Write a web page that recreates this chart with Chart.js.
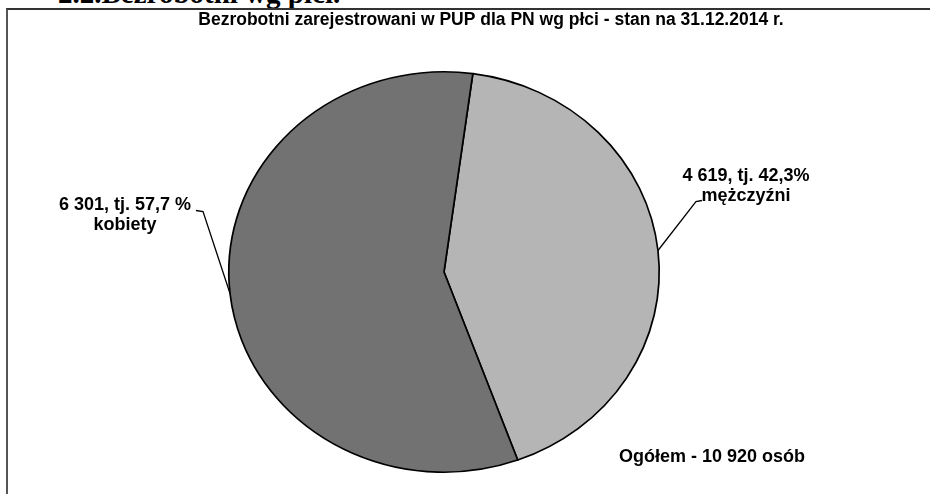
<!DOCTYPE html>
<html>
<head>
<meta charset="utf-8">
<script src="https://cdn.jsdelivr.net/npm/chart.js@4.4.0/dist/chart.umd.min.js"></script>
<style>
  html, body { margin:0; padding:0; background:#fff; width:930px; height:494px; overflow:hidden; }
  #heading { position:absolute; left:58px; top:-23px; font:bold 29px "Liberation Serif", "Times New Roman", serif; color:#000; white-space:nowrap; }
  #frame { position:absolute; left:6px; top:8px; width:930px; height:500px; border-left:2px solid #555; border-top:2px solid #333; box-sizing:border-box; }
  #wrap { position:absolute; left:0; top:0; width:930px; height:494px; }
</style>
</head>
<body>
<div id="heading">2.2.Bezrobotni wg płci.</div>
<div id="frame"></div>
<div id="wrap"><canvas id="c" width="930" height="494"></canvas></div>
<script>
const categories = ['mężczyźni', 'kobiety'];
const values = [4619, 6301];
const valueLabels = ['4 619', '6 301'];
const percentLabels = ['42,3%', '57,7 %'];
const titleText = 'Bezrobotni zarejestrowani w PUP dla PN wg płci - stan na 31.12.2014 r.';
const totalLabel = 'Ogółem - 10 920 osób';

const sliceColors = ['#b5b5b5', '#727272'];
const stretchX = 1.075;
const labelStyle = [
  { elbowDx: 38, elbowDy: -49, tickDx: 6, textX: 746, line1Y: 176, line2Y: 196 },
  { elbowDx: -27, elbowDy: -82, tickDx: -7, textX: 125, line1Y: 205, line2Y: 225 }
];
const FONT = '"Liberation Sans", Arial, sans-serif';

const piePlugin = {
  id: 'pieDecor',
  beforeDatasetsDraw(chart) {
    const arc = chart.getDatasetMeta(0).data[0];
    const ctx = chart.ctx;
    ctx.save();
    ctx.translate(arc.x, arc.y);
    ctx.scale(stretchX, 1);
    ctx.translate(-arc.x, -arc.y);
  },
  afterDatasetsDraw(chart) {
    const ctx = chart.ctx;
    ctx.restore();
    const meta = chart.getDatasetMeta(0);
    ctx.save();
    ctx.fillStyle = '#000';
    ctx.strokeStyle = '#000';
    ctx.lineWidth = 1.3;
    ctx.font = 'bold 18px ' + FONT;
    ctx.textAlign = 'center';
    ctx.textBaseline = 'middle';
    meta.data.forEach((el, i) => {
      const p = el.getProps(['x', 'y', 'startAngle', 'endAngle', 'outerRadius'], true);
      const mid = (p.startAngle + p.endAngle) / 2;
      const ax = p.x + stretchX * p.outerRadius * Math.cos(mid);
      const ay = p.y + p.outerRadius * Math.sin(mid);
      const s = labelStyle[i];
      const ex = ax + s.elbowDx, ey = ay + s.elbowDy;
      ctx.beginPath();
      ctx.moveTo(ax, ay);
      ctx.lineTo(ex, ey);
      ctx.lineTo(ex + s.tickDx, ey - 1);
      ctx.stroke();
      ctx.fillText(valueLabels[i] + ', tj. ' + percentLabels[i], s.textX, s.line1Y);
      ctx.fillText(categories[i], s.textX, s.line2Y);
    });
    ctx.font = 'bold 17.5px ' + FONT;
    ctx.fillText(titleText, 491, 20);
    ctx.font = 'bold 18px ' + FONT;
    ctx.fillText(totalLabel, 712, 457);
    ctx.restore();
  }
};

new Chart(document.getElementById('c'), {
  type: 'pie',
  data: {
    labels: categories,
    datasets: [{
      data: values,
      backgroundColor: sliceColors,
      borderColor: '#000',
      borderWidth: 1.6,
      borderJoinStyle: 'miter'
    }]
  },
  options: {
    responsive: false,
    animation: false,
    rotation: 7.7,
    layout: { padding: { top: 71, bottom: 21, left: 0, right: 42 } },
    plugins: { legend: { display: false }, tooltip: { enabled: false }, title: { display: false } },
    events: []
  },
  plugins: [piePlugin]
});
</script>
</body>
</html>
